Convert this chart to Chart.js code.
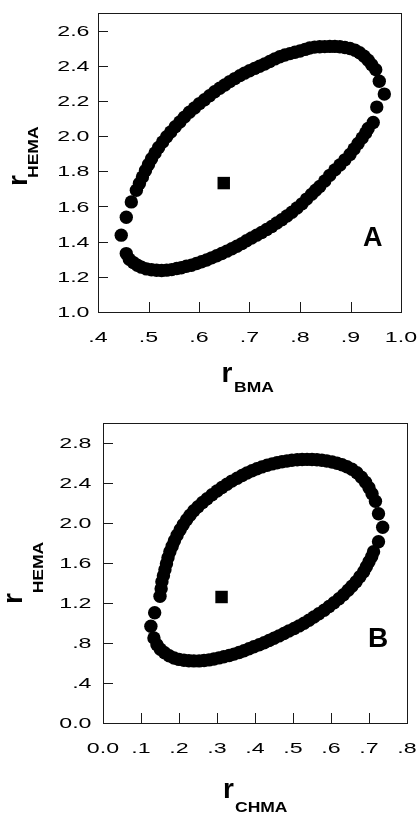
<!DOCTYPE html>
<html>
<head>
<meta charset="utf-8">
<script src="https://cdn.jsdelivr.net/npm/chart.js@4.4.1/dist/chart.umd.min.js"></script>
<style>
  html, body { margin: 0; padding: 0; background: #fff; }
  body { width: 417px; height: 814px; position: relative; overflow: hidden; }
  canvas { position: absolute; left: 0; }
  #chartA { top: 0; }
  #chartB { top: 400px; }
</style>
</head>
<body>
<canvas id="chartA" width="417" height="400"></canvas>
<canvas id="chartB" width="417" height="414"></canvas>
<script>
"use strict";

// ---- Panel A: r_BMA / r_HEMA confidence contour ----
const leftEndA = [[0.466, 1.626], [0.456, 1.539], [0.446, 1.437], [0.456, 1.332]];
const lowerA = [
  [0.462, 1.300], [0.470, 1.281], [0.478, 1.266], [0.486, 1.255], [0.496, 1.245], [0.506, 1.240],
  [0.516, 1.237], [0.526, 1.236], [0.536, 1.238], [0.546, 1.241], [0.556, 1.247], [0.565, 1.252],
  [0.575, 1.260], [0.585, 1.266], [0.595, 1.276], [0.605, 1.286], [0.615, 1.296], [0.625, 1.308],
  [0.635, 1.320], [0.645, 1.333], [0.655, 1.346], [0.665, 1.360], [0.675, 1.374], [0.685, 1.389],
  [0.694, 1.405], [0.704, 1.421], [0.714, 1.437], [0.724, 1.452], [0.734, 1.469], [0.744, 1.486],
  [0.754, 1.506], [0.764, 1.525], [0.774, 1.546], [0.784, 1.567], [0.794, 1.591], [0.804, 1.615],
  [0.813, 1.642], [0.823, 1.669], [0.831, 1.692], [0.839, 1.714], [0.849, 1.745], [0.859, 1.777],
  [0.869, 1.808], [0.879, 1.836], [0.889, 1.865], [0.899, 1.896], [0.907, 1.927], [0.915, 1.958],
  [0.923, 1.989], [0.930, 2.018], [0.935, 2.043],
];
const rightEndA = [[0.945, 2.077], [0.952, 2.165], [0.967, 2.239], [0.957, 2.312], [0.950, 2.378]];
const upperA = [
  [0.942, 2.406], [0.935, 2.431], [0.927, 2.454], [0.918, 2.474], [0.909, 2.488], [0.899, 2.498],
  [0.889, 2.504], [0.879, 2.508], [0.869, 2.510], [0.859, 2.510], [0.849, 2.509], [0.839, 2.508],
  [0.829, 2.506], [0.819, 2.501], [0.810, 2.493], [0.800, 2.484], [0.790, 2.477], [0.780, 2.469],
  [0.770, 2.461], [0.760, 2.451], [0.750, 2.439], [0.740, 2.424], [0.730, 2.410], [0.720, 2.397],
  [0.710, 2.385], [0.700, 2.372], [0.690, 2.358], [0.681, 2.344], [0.671, 2.327], [0.661, 2.310],
  [0.651, 2.291], [0.641, 2.272], [0.631, 2.252], [0.621, 2.230], [0.611, 2.207], [0.601, 2.185],
  [0.591, 2.160], [0.581, 2.136], [0.571, 2.108], [0.562, 2.080], [0.553, 2.053], [0.544, 2.024],
  [0.536, 1.996], [0.528, 1.967], [0.520, 1.935], [0.513, 1.904], [0.506, 1.871], [0.500, 1.839],
  [0.494, 1.805], [0.488, 1.768], [0.482, 1.731], [0.476, 1.692],
];
const bestA = [[0.649, 1.733]];
const xTicksA = [0.4, 0.5, 0.6, 0.7, 0.8, 0.9, 1.0];
const xLabelsA = [".4", ".5", ".6", ".7", ".8", ".9", "1.0"];
const yTicksA = [1.0, 1.2, 1.4, 1.6, 1.8, 2.0, 2.2, 2.4, 2.6];
const yLabelsA = ["1.0", "1.2", "1.4", "1.6", "1.8", "2.0", "2.2", "2.4", "2.6"];

// ---- Panel B: r_CHMA / r_HEMA confidence contour ----
const leftEndB = [[0.150, 1.268], [0.136, 1.103], [0.126, 0.968], [0.134, 0.850]];
const lowerB = [
  [0.142, 0.783], [0.151, 0.738], [0.162, 0.703], [0.174, 0.673], [0.187, 0.650], [0.200, 0.636],
  [0.213, 0.628], [0.226, 0.623], [0.239, 0.621], [0.253, 0.621], [0.266, 0.625], [0.279, 0.631],
  [0.292, 0.640], [0.305, 0.651], [0.318, 0.663], [0.332, 0.675], [0.345, 0.689], [0.358, 0.705],
  [0.371, 0.723], [0.384, 0.743], [0.397, 0.763], [0.411, 0.783], [0.424, 0.803], [0.437, 0.825],
  [0.450, 0.848], [0.463, 0.871], [0.476, 0.895], [0.489, 0.920], [0.503, 0.945], [0.516, 0.971],
  [0.529, 0.998], [0.542, 1.028], [0.555, 1.060], [0.568, 1.093], [0.582, 1.128], [0.595, 1.165],
  [0.608, 1.203], [0.621, 1.243], [0.633, 1.283], [0.645, 1.328], [0.655, 1.368], [0.666, 1.413],
  [0.676, 1.463], [0.686, 1.513], [0.693, 1.563], [0.700, 1.613], [0.707, 1.663], [0.712, 1.713],
];
const rightEndB = [[0.725, 1.813], [0.736, 1.958], [0.725, 2.093], [0.717, 2.218]];
const upperB = [
  [0.708, 2.293], [0.700, 2.353], [0.691, 2.408], [0.680, 2.458], [0.668, 2.503], [0.655, 2.538],
  [0.642, 2.563], [0.629, 2.583], [0.616, 2.598], [0.603, 2.610], [0.589, 2.620], [0.576, 2.628],
  [0.563, 2.633], [0.550, 2.635], [0.537, 2.636], [0.524, 2.635], [0.511, 2.632], [0.497, 2.627],
  [0.484, 2.620], [0.471, 2.612], [0.458, 2.603], [0.445, 2.591], [0.432, 2.577], [0.418, 2.561],
  [0.405, 2.543], [0.392, 2.523], [0.379, 2.500], [0.366, 2.475], [0.353, 2.448], [0.339, 2.419],
  [0.326, 2.388], [0.313, 2.355], [0.300, 2.320], [0.287, 2.283], [0.274, 2.243], [0.262, 2.205],
  [0.250, 2.163], [0.239, 2.123], [0.229, 2.078], [0.220, 2.033], [0.211, 1.983], [0.203, 1.933],
  [0.195, 1.878], [0.188, 1.823], [0.182, 1.768], [0.176, 1.713], [0.171, 1.653], [0.167, 1.593],
  [0.163, 1.533], [0.159, 1.473], [0.155, 1.413], [0.153, 1.343],
];
const bestB = [[0.312, 1.260]];
const xTicksB = [0.0, 0.1, 0.2, 0.3, 0.4, 0.5, 0.6, 0.7, 0.8];
const xLabelsB = ["0.0", ".1", ".2", ".3", ".4", ".5", ".6", ".7", ".8"];
const yTicksB = [0.0, 0.4, 0.8, 1.2, 1.6, 2.0, 2.4, 2.8];
const yLabelsB = ["0.0", ".4", ".8", "1.2", "1.6", "2.0", "2.4", "2.8"];

const FAMILY = "'Liberation Sans', Arial, Helvetica, sans-serif";
const TICK_FONT = "14.5px " + FAMILY;
const TICK_SX = 1.6; // the figure's digits are drawn wide
const R_FONT = "bold 28px " + FAMILY;
const SUB_FONT = "bold 14px " + FAMILY;
const SUB_SX = 1.25;

const toXY = (pairs) => pairs.map(([x, y]) => ({ x, y }));

function putText(ctx, str, x, y, font, sx, align) {
  ctx.save();
  ctx.translate(x, y);
  ctx.scale(sx, 1);
  ctx.font = font;
  ctx.textAlign = align;
  ctx.textBaseline = "alphabetic";
  ctx.fillStyle = "#000";
  ctx.fillText(str, 0, 0);
  ctx.restore();
}

// axis title "r" + bold subscript, optionally rotated
function drawTitle(ctx, t) {
  ctx.save();
  ctx.translate(t.x, t.y);
  if (t.rot) ctx.rotate(t.rot);
  putText(ctx, "r", 0, 0, R_FONT, 1, "left");
  putText(ctx, t.sub, t.dx, t.dy, SUB_FONT, SUB_SX, "left");
  ctx.restore();
}

function framePlugin(cfg) {
  return {
    id: "frame",
    afterDraw(chart) {
      const { ctx, chartArea: a } = chart;
      const xs = chart.scales.x;
      const ys = chart.scales.y;
      ctx.save();
      ctx.strokeStyle = "#1a1a1a";
      ctx.lineWidth = 1;
      ctx.strokeRect(Math.round(a.left) + 0.5, Math.round(a.top) + 0.5, Math.round(a.right - a.left), Math.round(a.bottom - a.top));
      ctx.beginPath();
      cfg.xTicks.forEach((v) => {
        const px = Math.round(xs.getPixelForValue(v)) + 0.5;
        ctx.moveTo(px, a.bottom);
        ctx.lineTo(px, a.bottom - 10);
      });
      cfg.yTicks.forEach((v) => {
        const py = Math.round(ys.getPixelForValue(v)) + 0.5;
        ctx.moveTo(a.left, py);
        ctx.lineTo(a.left + 10, py);
      });
      ctx.stroke();
      ctx.restore();

      cfg.xTicks.forEach((v, i) =>
        putText(ctx, cfg.xLabels[i], xs.getPixelForValue(v), cfg.xLabelBase, TICK_FONT, TICK_SX, "center"));
      cfg.yTicks.forEach((v, i) =>
        putText(ctx, cfg.yLabels[i], cfg.yLabelRight, ys.getPixelForValue(v) + 5.2, TICK_FONT, TICK_SX, "right"));

      drawTitle(ctx, cfg.xTitle);
      drawTitle(ctx, cfg.yTitle);
      putText(ctx, cfg.panel.text, cfg.panel.x, cfg.panel.y, cfg.panel.font, 1, "left");
    },
  };
}

function makeChart(id, cfg) {
  const contour = [...cfg.leftEnd, ...cfg.lower, ...cfg.rightEnd, ...cfg.upper];
  return new Chart(document.getElementById(id), {
    type: "scatter",
    data: {
      datasets: [
        { label: "contour", data: toXY(contour), pointStyle: "circle", pointRadius: 6.7, backgroundColor: "#000", borderWidth: 0 },
        { label: "estimate", data: toXY(cfg.best), pointStyle: "rect", pointRadius: 8.8, backgroundColor: "#000", borderWidth: 0 },
      ],
    },
    options: {
      responsive: false,
      animation: false,
      events: [],
      layout: { padding: cfg.padding },
      plugins: { legend: { display: false }, tooltip: { enabled: false } },
      scales: {
        x: {
          type: "linear", min: cfg.xMin, max: cfg.xMax,
          grid: { display: false }, border: { display: false }, ticks: { display: false },
          afterFit: (s) => { s.height = cfg.xAxisH; },
        },
        y: {
          type: "linear", min: cfg.yMin, max: cfg.yMax,
          grid: { display: false }, border: { display: false }, ticks: { display: false },
          afterFit: (s) => { s.width = cfg.yAxisW; },
        },
      },
    },
    plugins: [framePlugin(cfg)],
  });
}

makeChart("chartA", {
  leftEnd: leftEndA, lower: lowerA, rightEnd: rightEndA, upper: upperA, best: bestA,
  xMin: 0.4, xMax: 1.0, yMin: 1.0, yMax: 2.7,
  padding: { left: 0, top: 13, right: 16, bottom: 0 }, xAxisH: 88, yAxisW: 98,
  xTicks: xTicksA, xLabels: xLabelsA, yTicks: yTicksA, yLabels: yLabelsA,
  xLabelBase: 341.5, yLabelRight: 89.5,
  xTitle: { x: 221.5, y: 381.5, sub: "BMA", dx: 12.5, dy: 10.3 },
  yTitle: { x: 27, y: 186, rot: -Math.PI / 2, sub: "HEMA", dx: 8, dy: 11 },
  panel: { text: "A", x: 363, y: 246, font: "bold 27px " + FAMILY },
});

makeChart("chartB", {
  leftEnd: leftEndB, lower: lowerB, rightEnd: rightEndB, upper: upperB, best: bestB,
  xMin: 0.0, xMax: 0.8, yMin: 0.0, yMax: 3.0,
  padding: { left: 0, top: 23, right: 10, bottom: 0 }, xAxisH: 91, yAxisW: 103,
  xTicks: xTicksB, xLabels: xLabelsB, yTicks: yTicksB, yLabels: yLabelsB,
  xLabelBase: 353.3, yLabelRight: 91.5,
  xTitle: { x: 223, y: 398.3, sub: "CHMA", dx: 12, dy: 13.4 },
  yTitle: { x: 22, y: 204, rot: -Math.PI / 2, sub: "HEMA", dx: 10.7, dy: 21 },
  panel: { text: "B", x: 368, y: 247.3, font: "bold 28px " + FAMILY },
});
</script>
</body>
</html>
